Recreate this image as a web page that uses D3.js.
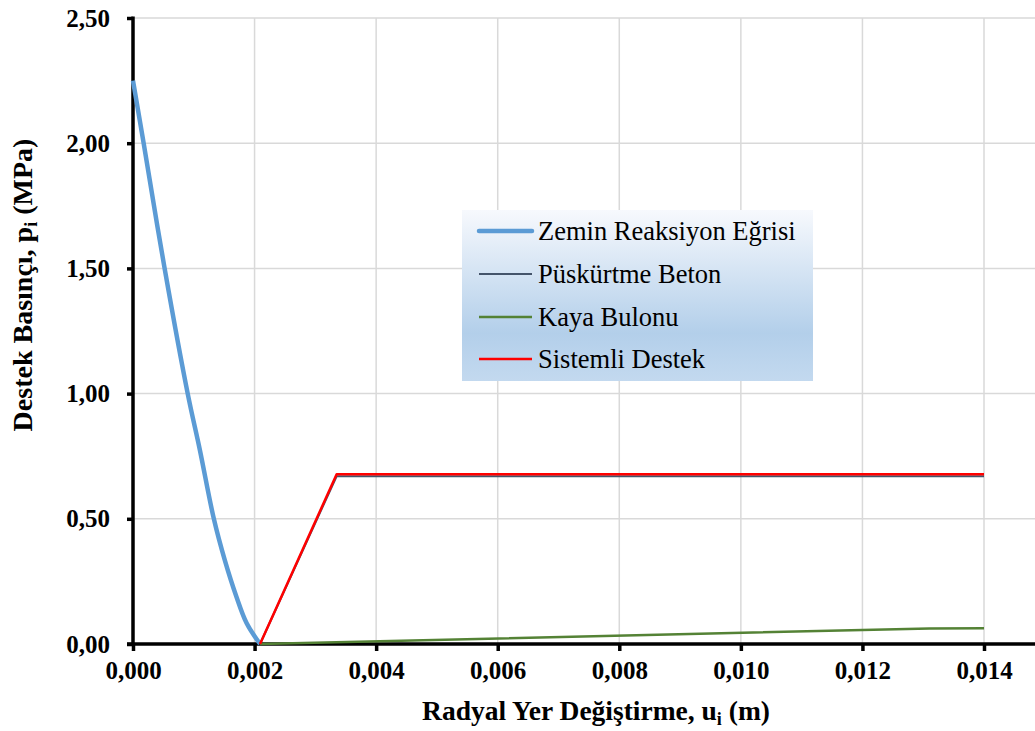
<!DOCTYPE html>
<html>
<head>
<meta charset="utf-8">
<script src="https://cdn.jsdelivr.net/npm/d3@7"></script>
<style>
  html, body { margin: 0; padding: 0; background: #ffffff; }
  svg { display: block; }
  svg text { font-family: "Liberation Serif", "Times New Roman", serif !important; }
</style>
</head>
<body>
<svg id="chart" width="1035" height="731"></svg>
<script>
// ---- data ----
const xTicks = [0, 0.002, 0.004, 0.006, 0.008, 0.010, 0.012, 0.014];
const yTicks = [0, 0.5, 1.0, 1.5, 2.0, 2.5];

const zeminU = [0, 0.000175, 0.00052, 0.0009, 0.0011, 0.00133, 0.00151, 0.0017, 0.00187, 0.00209];
const zeminP = [2.25, 2.0, 1.5, 1.0, 0.775, 0.5, 0.335, 0.19, 0.083, 0];

const betonU = [0.00209, 0.00335, 0.014];
const betonP = [0, 0.670, 0.670];

const bulonU = [0.00209, 0.0131, 0.014];
const bulonP = [0, 0.062, 0.063];

const sistemU = [0.00209, 0.00335, 0.014];
const sistemP = [0, 0.678, 0.678];

const seriesNames = ["Zemin Reaksiyon Eğrisi", "Püskürtme Beton", "Kaya Bulonu", "Sistemli Destek"];
const seriesColors = ["#5b9bd5", "#44546a", "#548235", "#ff0000"];
const seriesWidths = [4.5, 2, 2.5, 2.5];

// ---- layout ----
const FONT = "'Liberation Serif', 'Times New Roman', serif";
const svg = d3.select("#chart");
const mLeft = 133, mTop = 18, mBottom = 644, rightEdge = 1035;

const x = d3.scaleLinear().domain([0, 0.014]).range([mLeft, 984]);
const y = d3.scaleLinear().domain([0, 2.5]).range([mBottom, mTop]);

const fmtX = d => d3.format(".3f")(d).replace(".", ",");
const fmtY = d => d3.format(".2f")(d).replace(".", ",");

// gridlines
const grid = svg.append("g");
grid.selectAll("line.h").data(yTicks.filter(d => d > 0)).enter().append("line")
  .attr("x1", mLeft).attr("x2", rightEdge)
  .attr("y1", d => y(d)).attr("y2", d => y(d))
  .attr("stroke", "#d9d9d9").attr("stroke-width", 1.5);
grid.selectAll("line.v").data(xTicks.filter(d => d > 0)).enter().append("line")
  .attr("x1", d => x(d)).attr("x2", d => x(d))
  .attr("y1", mTop).attr("y2", mBottom)
  .attr("stroke", "#d9d9d9").attr("stroke-width", 1.5);

// axes
const yAxis = d3.axisLeft(y).tickValues(yTicks).tickFormat(fmtY).tickSize(6).tickPadding(17);
const gy = svg.append("g").attr("transform", `translate(${mLeft},0)`).call(yAxis);
gy.attr("font-family", null);
gy.select(".domain").remove();
gy.selectAll(".tick line").attr("stroke", "#000").attr("stroke-width", 3.5);
gy.selectAll(".tick text").attr("font-size", 25).attr("font-weight", "bold")
  .style("font-family", FONT).attr("fill", "#000");
svg.append("line").attr("x1", mLeft).attr("x2", mLeft).attr("y1", mTop - 1.5).attr("y2", mBottom)
  .attr("stroke", "#000").attr("stroke-width", 3.5);

const xAxis = d3.axisBottom(x).tickValues(xTicks).tickFormat(fmtX).tickSize(7).tickPadding(10);
const gx = svg.append("g").attr("transform", `translate(0,${mBottom})`).call(xAxis);
gx.attr("font-family", null);
gx.select(".domain").remove();
gx.selectAll(".tick line").attr("stroke", "#000").attr("stroke-width", 3.5);
gx.selectAll(".tick text").attr("font-size", 25).attr("font-weight", "bold")
  .style("font-family", FONT).attr("fill", "#000");
svg.append("line").attr("x1", mLeft - 6).attr("x2", rightEdge).attr("y1", mBottom).attr("y2", mBottom)
  .attr("stroke", "#000").attr("stroke-width", 3.5);

// series
const seriesData = [
  d3.zip(zeminU, zeminP),
  d3.zip(betonU, betonP),
  d3.zip(bulonU, bulonP),
  d3.zip(sistemU, sistemP)
];
const curves = [d3.curveCatmullRom.alpha(0.5), d3.curveLinear, d3.curveLinear, d3.curveLinear];
seriesData.forEach((pts, i) => {
  const line = d3.line().x(d => x(d[0])).y(d => y(d[1])).curve(curves[i]);
  svg.append("path").datum(pts).attr("d", line)
    .attr("fill", "none").attr("stroke", seriesColors[i])
    .attr("stroke-width", seriesWidths[i]).attr("stroke-linejoin", "round");
});

// legend
const defs = svg.append("defs");
const grad = defs.append("linearGradient").attr("id", "lg").attr("x1", 0).attr("y1", 0).attr("x2", 0).attr("y2", 1);
grad.append("stop").attr("offset", "0%").attr("stop-color", "#f7f9fd");
grad.append("stop").attr("offset", "72%").attr("stop-color", "#b3cfea");
grad.append("stop").attr("offset", "100%").attr("stop-color", "#c3d9ef");

const lg = svg.append("g");
lg.append("rect").attr("x", 462).attr("y", 210).attr("width", 351).attr("height", 171)
  .attr("fill", "url(#lg)");
const rowY = [231, 274, 317, 359];
seriesNames.forEach((n, i) => {
  lg.append("line").attr("x1", 479).attr("x2", 532).attr("y1", rowY[i]).attr("y2", rowY[i])
    .attr("stroke", seriesColors[i]).attr("stroke-width", seriesWidths[i]).attr("stroke-linecap", i === 0 ? "round" : "butt");
  lg.append("text").attr("x", 538).attr("y", rowY[i]).attr("dy", "0.33em")
    .attr("font-size", 26.5).style("font-family", FONT).attr("fill", "#000").text(n);
});

// axis titles
const xt = svg.append("text").attr("x", 596).attr("y", 720).attr("text-anchor", "middle")
  .attr("font-size", 27.5).attr("font-weight", "bold").style("font-family", FONT).attr("fill", "#000");
xt.append("tspan").text("Radyal Yer Değiştirme, u");
xt.append("tspan").attr("font-size", 18).attr("dy", 5).text("i");
xt.append("tspan").attr("dy", -5).text(" (m)");

const yt = svg.append("text").attr("transform", "translate(32,285) rotate(-90)").attr("text-anchor", "middle")
  .attr("font-size", 28).attr("font-weight", "bold").style("font-family", FONT).attr("fill", "#000");
yt.append("tspan").text("Destek Basınçı, p");
yt.append("tspan").attr("font-size", 18).attr("dy", 5).text("i");
yt.append("tspan").attr("dy", -5).text("  (MPa)");
</script>
</body>
</html>
